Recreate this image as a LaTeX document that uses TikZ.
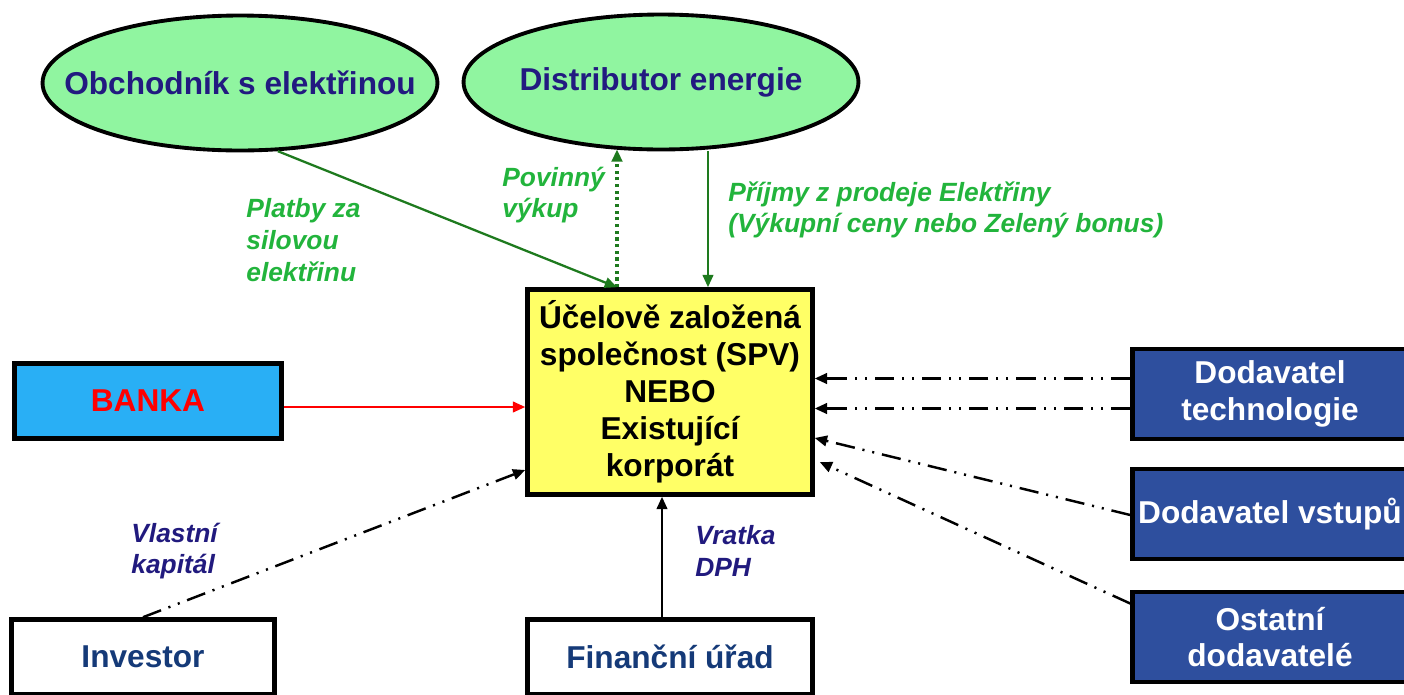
\documentclass[tikz,border=0pt]{standalone}
\usepackage{fontspec}
\setmainfont{Liberation Sans}
\usetikzlibrary{shapes.geometric,arrows.meta}

\definecolor{marketfill}{RGB}{144,245,160}
\definecolor{marketnavy}{RGB}{34,26,128}
\definecolor{flowgreen}{RGB}{30,122,30}
\definecolor{lblgreen}{RGB}{34,180,60}
\definecolor{lblnavy}{RGB}{33,26,126}
\definecolor{spvyellow}{RGB}{255,255,102}
\definecolor{bankblue}{RGB}{41,175,245}
\definecolor{supblue}{RGB}{46,79,158}
\definecolor{officeblue}{RGB}{21,58,120}

\begin{document}
\begin{tikzpicture}[x=0.02cm,y=-0.02cm,>={Triangle[length=7pt,width=6pt]}]

    % let's define some key values
    \def\boxline{2.6pt}
    \def\flowline{1.3pt}

    % Styles
    \tikzstyle{party}=[draw=black, line width=\boxline, align=center,
        font=\bfseries\fontsize{18}{21}\selectfont, inner sep=0pt]
    \tikzstyle{market}=[party, ellipse, fill=marketfill, text=marketnavy,
        line width=2.2pt, minimum width=7.9cm, minimum height=2.7cm]
    \tikzstyle{supplier}=[party, fill=supblue, text=white,
        minimum width=5.5cm, minimum height=1.8cm]
    \tikzstyle{lower}=[party, fill=white, text=officeblue,
        minimum height=1.5cm]
    \tikzstyle{flowlbl}=[font=\bfseries\itshape\fontsize{15}{18}\selectfont,
        align=left, anchor=west, inner sep=0pt]
    \tikzstyle{dashdotdot}=[line width=1.4pt,
        dash pattern=on 11pt off 4.5pt on 1.2pt off 4.5pt on 1.2pt off 4.5pt]
    \tikzstyle{inlbl}=[font=\bfseries\fontsize{18}{21}\selectfont,
        text=marketnavy, inner sep=0pt]

    \clip (0,0) rectangle (1404,694);

    % electricity market
    \node[market, label={[inlbl]center:Obchodník s elektřinou}] (obch)
        at (240,83) {};
    \node[market, label={[inlbl]center:Distributor energie}] (distr)
        at (661,82) {};

    % the project company
    \node[party, fill=spvyellow, minimum width=5.7cm, minimum height=4.1cm]
        (spv) at (670,392)
        {Účelově založená\\ společnost (SPV)\\ NEBO\\ Existující\\ korporát};

    % financing side
    \node[party, fill=bankblue, text=red, minimum width=5.35cm,
        minimum height=1.5cm] (banka) at (148,401) {BANKA};
    \node[lower, minimum width=5.25cm] (inv) at (143,657) {Investor};
    \node[lower, minimum width=5.7cm] (fin) at (670,657) {Finanční úřad};

    % suppliers
    \node[supplier] (dtech) at (1270,394) {Dodavatel\\ technologie};
    \node[supplier] (dvst) at (1270,514) {Dodavatel vstupů};
    \node[supplier] (ostat) at (1270,637) {Ostatní\\ dodavatelé};

    % payments for electricity
    \draw[->, flowgreen, line width=\flowline] (obch.-61)
        -- ([xshift=-1.06cm]spv.north);
    % mandatory purchase
    \draw[->, flowgreen, dotted, line width=1.8pt] ([xshift=-1.06cm]spv.north)
        -- ([xshift=-1.06cm, yshift=0.04cm]spv.north |- distr.south);
    % revenue
    \draw[->, flowgreen, line width=\flowline]
        ([xshift=0.76cm]spv.north |- distr.south) -- ([xshift=0.76cm]spv.north);

    % bank loan
    \draw[->, red, line width=\flowline] ([yshift=-0.12cm]banka.east)
        -- ([yshift=-0.12cm]banka.east -| spv.west);
    % equity
    \draw[->, dashdotdot] (inv.north) -- ([yshift=-1.56cm]spv.west);
    % VAT refund
    \draw[->, line width=\flowline] ([xshift=-0.16cm]fin.north)
        -- ([xshift=-0.16cm]spv.south);

    % supplier flows
    \draw[->, dashdotdot] ([yshift=0.31cm]dtech.west)
        -- ([yshift=0.31cm]dtech.west -| spv.east);
    \draw[->, dashdotdot] ([yshift=-0.29cm]dtech.west)
        -- ([yshift=-0.29cm]dtech.west -| spv.east);
    \draw[->, dashdotdot] ([yshift=-0.02cm]dvst.west) -- ([yshift=-0.92cm]spv.east);
    \draw[->, dashdotdot] ([yshift=0.67cm]ostat.west)
        -- ([xshift=0.1cm, yshift=-1.4cm]spv.east);

    % flow labels
    \node[flowlbl, text=lblgreen] (platby) at (246,240)
        {Platby za\\ silovou\\ elektřinu};
    \node[flowlbl, text=lblgreen] (vykup) at (502,195) {Povinný\\ výkup};
    \node[flowlbl, text=lblgreen] (prijmy) at (728,210)
        {Příjmy z prodeje Elektřiny\\ (Výkupní ceny nebo Zelený bonus)};
    \node[flowlbl, text=lblnavy] (kapital) at (131,551) {Vlastní\\ kapitál};
    \node[flowlbl, text=lblnavy] (dph) at (695,551) {Vratka\\ DPH};

\end{tikzpicture}
\end{document}
